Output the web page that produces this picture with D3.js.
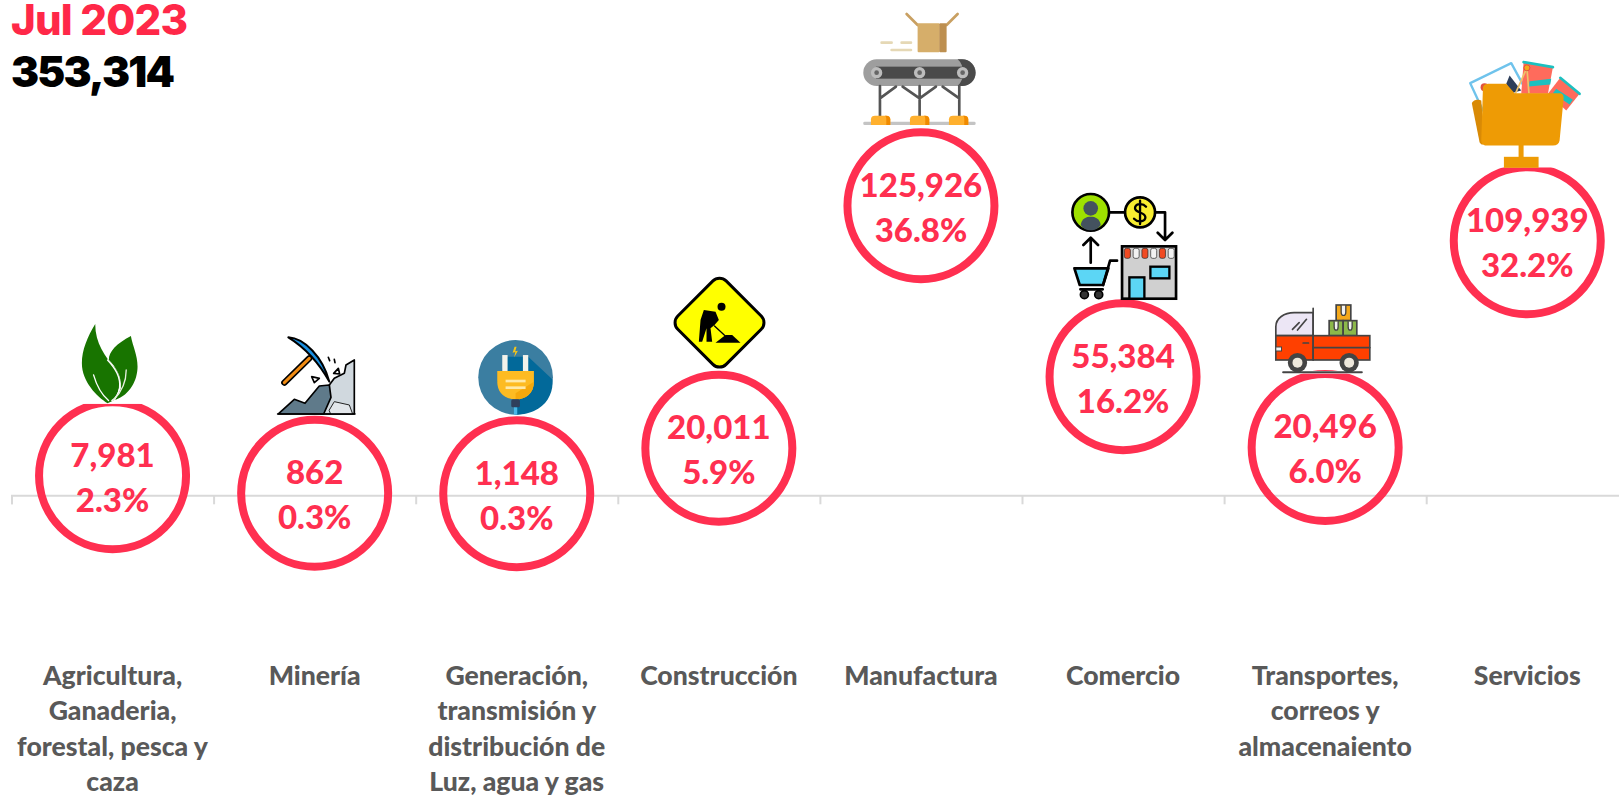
<!DOCTYPE html>
<html>
<head>
<meta charset="utf-8">
<script src="https://cdn.jsdelivr.net/npm/d3@7"></script>
<style>
html, body { margin: 0; padding: 0; background: #fff; overflow: hidden; }
svg { display: block; }
</style>
</head>
<body>
<div id="chart"></div>
<script>
var period = 'Jul 2023';
var total = 353314;
var categories = ['Agricultura', 'Minería', 'Generación', 'Construcción', 'Manufactura', 'Comercio', 'Transportes', 'Servicios'];
var categoryLines = [
	['Agricultura,', 'Ganaderia,', 'forestal, pesca y', 'caza'],
	['Minería'],
	['Generación,', 'transmisión y', 'distribución de', 'Luz, agua y gas'],
	['Construcción'],
	['Manufactura'],
	['Comercio'],
	['Transportes,', 'correos y', 'almacenaiento'],
	['Servicios']
];
var values = [7981, 862, 1148, 20011, 125926, 55384, 20496, 109939];
var shares = [2.3, 0.3, 0.3, 5.9, 36.8, 16.2, 6.0, 32.2];
// height of each ring as read off the picture, not quite the printed value
var plotted = [8500, 870, 700, 20450, 125926, 51600, 20800, 110700];
var icons = ['leaf', 'pick', 'plug', 'works', 'belt', 'shop', 'truck', 'folder'];

var width = 1619, height = 796;
var red = '#ff2f50';

var svg = d3.select('#chart').append('svg')
	.attr('width', width)
	.attr('height', height);

var x = d3.scaleBand().domain(categories).range([11.5, 1628.3]);
var y = d3.scaleLinear().domain([0, 125926]).range([495.3, 205.8]);
var cx = function(i){ return x(categories[i]) + x.bandwidth() / 2; };
var cy = function(i){ return y(plotted[i]); };

// axis: ticks sit on the band edges, no labels
var edgeScale = d3.scaleIdentity().domain([11.5, 1628.3]);
var axis = svg.append('g')
	.attr('transform', 'translate(0,495.3)')
	.call(d3.axisBottom(edgeScale)
		.tickValues(categories.map(function(c){ return x(c); }))
		.tickSize(9)
		.tickSizeOuter(9)
		.tickFormat(''));
axis.selectAll('path, line').attr('stroke', '#d9d9d9').attr('stroke-width', 2);

// rings
svg.selectAll('.ring').data(categories).enter().append('circle')
	.attr('class', 'ring')
	.attr('cx', function(d, i){ return cx(i); })
	.attr('cy', function(d, i){ return cy(i); })
	.attr('r', 73.5)
	.attr('fill', 'none')
	.attr('stroke', red)
	.attr('stroke-width', 8);

// ring labels
var valueFormat = d3.format(','), shareFormat = d3.format('.1f');
var label = svg.selectAll('.lbl').data(categories).enter().append('g').attr('class', 'lbl')
	.attr('font-family', 'Lato')
	.attr('font-weight', 900)
	.attr('font-size', 33)
	.attr('fill', red)
	.attr('text-anchor', 'middle');
label.append('text')
	.attr('x', function(d, i){ return cx(i); })
	.attr('y', function(d, i){ return cy(i) - 9; })
	.text(function(d, i){ return valueFormat(values[i]); });
label.append('text')
	.attr('x', function(d, i){ return cx(i); })
	.attr('y', function(d, i){ return cy(i) + 36; })
	.text(function(d, i){ return shareFormat(shares[i]) + '%'; });

// category names
var cat = svg.selectAll('.cat').data(categoryLines).enter().append('text')
	.attr('class', 'cat')
	.attr('font-family', 'Lato')
	.attr('font-weight', 900)
	.attr('font-size', 26.6)
	.attr('fill', '#595959')
	.attr('text-anchor', 'middle');
cat.selectAll('tspan').data(function(d, i){
		return d.map(function(t){ return {t: t, i: i}; });
	}).enter().append('tspan')
	.attr('x', function(d){ return cx(d.i); })
	.attr('y', function(d, j){ return 684.5 + j * 35.5; })
	.text(function(d){ return d.t; });

// title
svg.append('text').attr('x', 11).attr('y', 35)
	.attr('font-family', 'Inter').attr('font-weight', 800).attr('font-size', 42)
	.attr('letter-spacing', -0.8)
	.attr('fill', '#ff2848').text(period);
svg.append('text').attr('x', 11).attr('y', 86.7)
	.attr('font-family', 'Inter').attr('font-weight', 900).attr('font-size', 42)
	.attr('letter-spacing', -1.8)
	.attr('fill', '#000').text(valueFormat(total));

// small helpers for the pictograms, everything is in 3x crop units
function p(g, d, fill, stroke, sw){
	return g.append('path').attr('d', d).attr('fill', fill || 'none')
		.attr('stroke', stroke || 'none').attr('stroke-width', sw || 0)
		.attr('stroke-linecap', 'round').attr('stroke-linejoin', 'round');
}
function c(g, px, py, r, fill, stroke, sw){
	return g.append('circle').attr('cx', px).attr('cy', py).attr('r', r).attr('fill', fill)
		.attr('stroke', stroke || 'none').attr('stroke-width', sw || 0);
}
function r(g, rx, ry, w, h, fill, stroke, sw, round){
	return g.append('rect').attr('x', rx).attr('y', ry).attr('width', w).attr('height', h)
		.attr('rx', round || 0).attr('fill', fill)
		.attr('stroke', stroke || 'none').attr('stroke-width', sw || 0);
}

var drawIcon = {
	leaf: {at: [337, 497.5], draw: function(g){
		r(g, 200, 200, 270, 82, '#fff');
		p(g, 'M392 78C350 100 325 125 326 150C345 170 365 195 362 235L345 270C390 255 412 210 412 170C412 135 398 110 392 78Z', '#187400');
		p(g, 'M285 42C262 80 245 120 245 160C245 215 290 260 322 280L340 272C362 240 365 200 345 175C315 140 285 100 285 42Z', '#187400');
		p(g, 'M322 150C345 175 362 200 358 235C355 250 345 265 335 272', 'none', '#fff', 4);
		p(g, 'M280 195C290 230 305 255 325 272', 'none', '#fff', 4);
		p(g, 'M378 180C378 215 365 245 340 270', 'none', '#e8f0e0', 4);
	}},
	pick: {at: [941, 550], draw: function(g){
		p(g, 'M1060 150L1060 312L960 312L985 225L1000 205L1030 190L1035 165Z', '#d0d8de', '#000', 5);
		p(g, 'M832 312L880 268L912 280L955 228L985 225L990 262L968 312Z', '#5f7a8a', '#000', 5);
		p(g, 'M985 300L1000 275L1045 285L1055 312L990 312Z', '#e2e6ea', '#222', 3);
		p(g, 'M830 312H1062', 'none', '#000', 5);
		p(g, 'M850 218L925 145', 'none', '#000', 19);
		p(g, 'M850 218L925 145', 'none', '#f28c13', 9);
		p(g, 'M862 82C910 85 965 140 985 215C955 160 915 115 862 82Z', '#1a8fe0', '#000', 6);
		p(g, 'M932 200L955 205L940 218Z', '#fff', '#000', 5);
		p(g, 'M998 190L1012 175L1016 192Z', '#fff', '#000', 5);
		p(g, 'M982 142L986 152M1000 148L1002 158', 'none', '#000', 5);
	}},
	plug: {at: [348.5, 551], draw: function(g){
		c(g, 345, 202, 112, '#3b7ea1');
		p(g, 'M321 140L383 140L455 208C460 245 440 285 400 303C380 312 360 314 345 314L345 268L290 215Z', '#02699a');
		r(g, 305, 135, 16, 58, '#f2f2ea');
		r(g, 367, 135, 16, 58, '#f2f2ea');
		p(g, 'M290 183H400V215C400 250 375 268 345 268C315 268 290 250 290 215Z', '#fdbb22');
		p(g, 'M345 268C375 268 400 250 400 215L345 250Z', '#f5a80c');
		r(g, 315, 209, 60, 8, '#ffe9a8');
		r(g, 315, 229, 60, 8, '#ffe9a8');
		r(g, 332, 268, 26, 24, '#2f3f5c', null, 0, 5);
		r(g, 340, 292, 10, 22, '#4ab8e8');
		p(g, 'M342 110L336 128L344 126L341 142L352 122L344 124L348 110Z', '#f5c518');
	}},
	works: {at: [235, 1345], draw: function(g){
		r(g, 134.5, 865.5, 205, 205, '#ffff00', '#000', 9, 28)
			.attr('transform', 'rotate(45 237 968)');
		c(g, 243, 920, 12, '#000');
		p(g, 'M190 930L225 935L235 960L222 975L210 985L215 1025L198 1025L198 985L185 1025L175 1025L180 960Z', '#000');
		p(g, 'M222 978L252 1006', 'none', '#000', 4);
		p(g, 'M225 1028L255 1005L275 1005L300 1028Z', '#000');
	}},
	belt: {at: [840, 617.5], draw: function(g){
		p(g, 'M830 75L797 42M917 75L950 42', 'none', '#c9a062', 8);
		r(g, 830, 70, 66, 87, '#d6ae6a', null, 0, 3);
		r(g, 895, 70, 22, 87, '#bd8f50', null, 0, 3);
		p(g, 'M722 128H752M782 128H810M752 150H810', 'none', '#e5d8b5', 8);
		r(g, 667, 178, 337, 80, '#9e9e9e', null, 0, 40);
		p(g, 'M950 178H964C986 178 1004 196 1004 218C1004 240 986 258 964 258H950C972 240 972 196 950 178Z', '#4a4a4a');
		r(g, 705, 200, 260, 36, '#4a4a4a');
		[707, 836, 965].forEach(function(px){
			c(g, px, 218, 17, '#bdbdbd');
			c(g, px, 218, 7, '#666');
		});
		p(g, 'M717 258V350M836 258V350M955 258V350M717 295L765 260M785 260L836 295L885 260M905 260L955 295', 'none', '#555', 8);
		r(g, 667, 365, 337, 10, '#c4c4c4', null, 0, 4);
		[690, 807, 924].forEach(function(px){
			p(g, 'M' + px + ' 375V358C' + px + ' 350 ' + (px + 5) + ' 347 ' + (px + 12) + ' 347H' + (px + 46) + 'C' + (px + 54) + ' 347 ' + (px + 58) + ' 352 ' + (px + 58) + ' 358V375Z', '#ffb02e');
			p(g, 'M' + (px + 42) + ' 347H' + (px + 46) + 'C' + (px + 54) + ' 347 ' + (px + 58) + ' 352 ' + (px + 58) + ' 358V375H' + (px + 46) + 'V358C' + (px + 46) + ' 352 ' + (px + 45) + ' 349 ' + (px + 42) + ' 347Z', '#f08a00');
		});
	}},
	shop: {at: [246, 620], draw: function(g){
		p(g, 'M205 127H250M345 127H372V205M350 188L372 210L394 188M149 278V205M127 225L149 203L171 225', 'none', '#000', 8);
		c(g, 149, 127, 55, '#9ee000', '#000', 8);
		p(g, 'M119 165C122 145 135 140 149 140C163 140 176 145 179 165C170 178 160 181 149 181C138 181 128 178 119 165Z', '#44525f');
		c(g, 149, 115, 22, '#44525f');
		c(g, 297, 127, 45, '#f8ee30', '#000', 8);
		p(g, 'M315 110C305 98 282 100 282 115C282 130 313 125 313 142C313 156 290 158 279 146M297 92V162', 'none', '#000', 7);
		p(g, 'M100 295H202L186 345H116Z', '#5cd6f5', '#000', 8);
		p(g, 'M186 345L207 272H228M118 358H185', 'none', '#000', 8);
		c(g, 130, 374, 12, '#333', '#000', 5);
		c(g, 173, 374, 12, '#333', '#000', 5);
		r(g, 243, 229, 162, 157, '#d0d0d0', '#000', 8);
		d3.range(6).forEach(function(k){
			r(g, 250 + k * 26.3, 235, 18, 30, k % 2 ? '#f2f2f2' : '#f04a22', '#222', 2, 6);
		});
		r(g, 265, 322, 45, 64, '#5cd6f5', '#000', 7);
		r(g, 328, 290, 57, 35, '#5cd6f5', '#000', 7);
	}},
	truck: {at: [853, 832.5], draw: function(g){
		r(g, 700, 603, 300, 8, '#fff');
		r(g, 886, 405, 44, 47, '#f5a91b', '#444', 5);
		r(g, 865, 452, 42, 45, '#8cb84a', '#444', 5);
		r(g, 907, 452, 41, 45, '#8cb84a', '#444', 5);
		p(g, 'M901 407V425C901 440 915 440 915 425V407M880 455V470C880 484 892 484 892 470V455M922 455V470C922 484 934 484 934 470V455', '#f2f2f2', '#444', 4);
		p(g, 'M705 497V470C705 445 730 428 760 428H817V497Z', '#ece6f5', '#444', 5);
		p(g, 'M817 415V497M755 478L775 458M770 480L797 448', 'none', '#444', 5);
		r(g, 705, 497, 112, 73, '#ff4000', '#444', 5);
		r(g, 817, 497, 170, 73, '#ff4000', '#444', 5);
		p(g, 'M817 533H987M787 519H803', 'none', '#444', 5);
		r(g, 705, 531, 17, 12, '#f2f2f2', '#444', 3);
		[770, 925].forEach(function(px){
			c(g, px, 578, 29, '#444');
			c(g, px, 578, 15, '#eee8dc');
		});
		p(g, 'M727 607H963', 'none', '#444', 6);
	}},
	folder: {at: [923, 541], draw: function(g){
		r(g, 800, 270, 250, 51, '#fff');
		p(g, 'M752 68L875 8L925 100L790 150Z', '#fff', '#6fc3ec', 7);
		c(g, 795, 80, 12, '#e0533f');
		p(g, 'M860 70L870 45L905 90L875 98Z', '#2c3e5a');
		p(g, 'M912 5L1000 20L985 100L905 100Z', '#ff6b5c');
		p(g, 'M912 5L1000 20', 'none', '#1cc0c0', 8);
		p(g, 'M930 62L995 55L992 72L928 78Z', '#1cc0c0');
		p(g, 'M1022 52L1080 100L1040 150L985 100Z', '#ff6b5c');
		p(g, 'M1022 52L1080 100', 'none', '#1cc0c0', 8);
		p(g, 'M1010 85L1060 118L1050 132L1000 98Z', '#1cc0c0');
		p(g, 'M922 22L888 98M922 22L928 98', 'none', '#eec26a', 5);
		c(g, 922, 22, 9, '#f5a91b', '#e0533f', 3);
		r(g, 853, 289, 104, 33, '#ee9b05');
		r(g, 897, 250, 15, 40, '#ee9b05');
		p(g, 'M757 130C757 120 775 115 785 120L795 250C788 255 782 250 780 245Z', '#d98a05');
		p(g, 'M790 85C790 72 798 70 810 70H860L885 98H1020C1030 98 1033 105 1032 115L1020 240C1018 250 1012 255 1000 255H800C790 255 785 248 785 240Z', '#ee9b05');
	}}
};

// pictograms go on top of the rings, a few of them cover the ring top
icons.forEach(function(name, i){
	var icon = drawIcon[name];
	var g = svg.append('g')
		.attr('class', 'icon-' + name)
		.attr('transform', 'translate(' + cx(i) + ',' + cy(i) + ') scale(0.3333) translate(' + (-icon.at[0]) + ',' + (-icon.at[1]) + ')');
	icon.draw(g);
});
</script>
</body>
</html>
